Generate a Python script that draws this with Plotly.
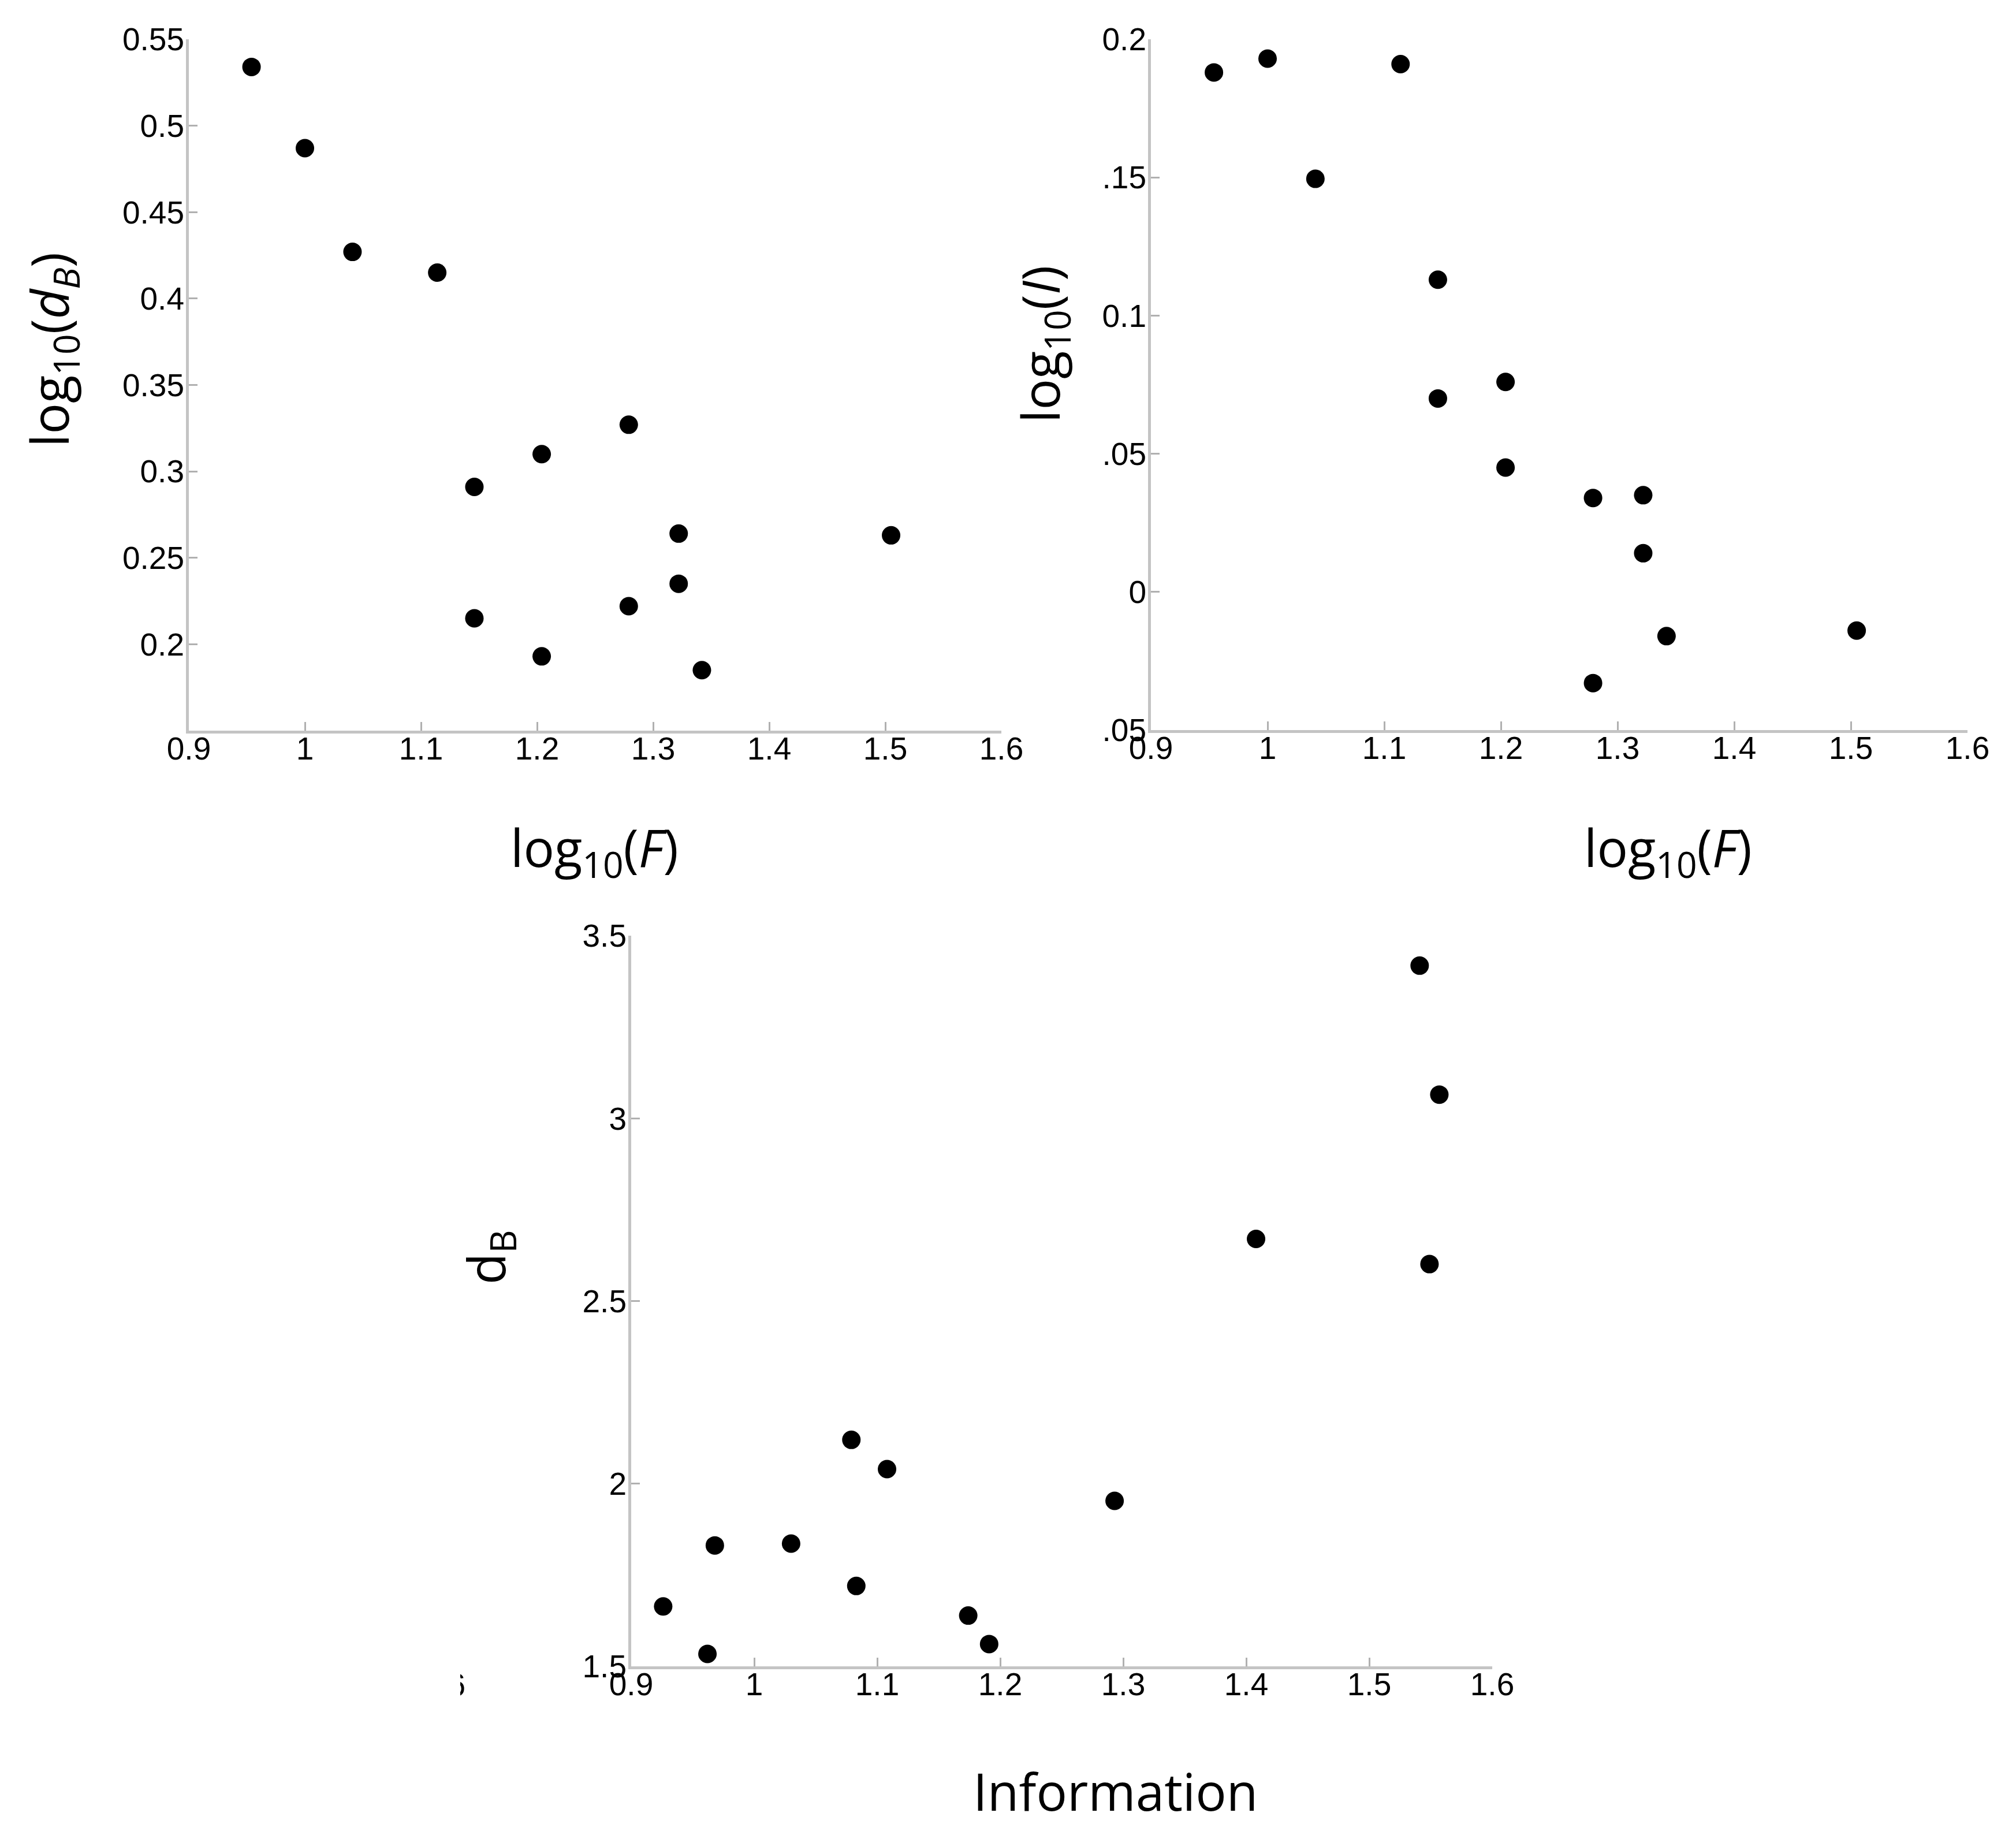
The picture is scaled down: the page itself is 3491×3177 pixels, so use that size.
import plotly.graph_objects as go

W, H = 3491, 3177

# ---------------- data ----------------
log_F = [0.954, 1.000, 1.041, 1.114, 1.146, 1.146, 1.204, 1.204,
         1.279, 1.279, 1.322, 1.322, 1.342, 1.505]
log_dB = [0.534, 0.487, 0.427, 0.415, 0.291, 0.215, 0.310, 0.193,
          0.327, 0.222, 0.264, 0.235, 0.185, 0.263]
log_I = [0.188, 0.193, 0.1495, 0.191, 0.113, 0.070, 0.076, 0.045,
         0.034, -0.033, 0.035, 0.014, -0.016, -0.014]

information = [0.926, 0.962, 0.968, 1.030, 1.079, 1.083, 1.108, 1.174,
               1.191, 1.293, 1.408, 1.541, 1.549, 1.557]
d_B = [1.664, 1.534, 1.831, 1.836, 2.120, 1.720, 2.040, 1.639,
       1.561, 1.953, 2.670, 3.418, 2.601, 3.065]

x_ticks = [0.9, 1.0, 1.1, 1.2, 1.3, 1.4, 1.5, 1.6]
x_ticktext = ["0.9", "1", "1.1", "1.2", "1.3", "1.4", "1.5", "1.6"]
y1_ticks = [0.2, 0.25, 0.3, 0.35, 0.4, 0.45, 0.5, 0.55]
y1_ticktext = ["0.2", "0.25", "0.3", "0.35", "0.4", "0.45", "0.5", "0.55"]
y2_ticks = [-0.05, 0.0, 0.05, 0.1, 0.15, 0.2]
y2_ticktext = [".05", "0", ".05", "0.1", ".15", "0.2"]
y3_ticks = [1.5, 2.0, 2.5, 3.0, 3.5]
y3_ticktext = ["1.5", "2", "2.5", "3", "3.5"]


def fx(px):
    return px / W


def fy(py):
    return 1 - py / H


fig = go.Figure()

marker = dict(color="black", size=32, line=dict(width=0))

fig.add_trace(go.Scatter(x=log_F, y=log_dB, mode="markers", marker=marker,
                         xaxis="x", yaxis="y", cliponaxis=False, showlegend=False))
fig.add_trace(go.Scatter(x=log_F, y=log_I, mode="markers", marker=marker,
                         xaxis="x2", yaxis="y2", cliponaxis=False, showlegend=False))
fig.add_trace(go.Scatter(x=information, y=d_B, mode="markers", marker=marker,
                         xaxis="x3", yaxis="y3", cliponaxis=False, showlegend=False))

# clipped fragment of a neighbouring tick label ("1.6") at bottom-left
fig.add_trace(go.Scatter(x=[806], y=[0.5], mode="text", text=["1.6"],
                         textposition="middle left",
                         textfont=dict(family="Liberation Sans, Arial", size=55, color="black"),
                         marker=dict(size=1), xaxis="x4", yaxis="y4",
                         cliponaxis=True, showlegend=False, hoverinfo="skip"))

tickfont = dict(family="Liberation Sans, Arial", size=55, color="black")
axis_common = dict(showline=True, linecolor="#c4c4c4", linewidth=5,
                   ticks="inside", ticklen=15, tickwidth=3, tickcolor="#b0b0b0",
                   showgrid=False, zeroline=False, mirror=False, automargin=False,
                   tickfont=tickfont, fixedrange=True)

XSTAND = -21
YSTAND = -8

fig.update_layout(
    template="none",
    width=W, height=H, autosize=False,
    margin=dict(l=0, r=0, t=0, b=0, pad=0),
    paper_bgcolor="white", plot_bgcolor="white",
    xaxis=dict(domain=[fx(327), fx(1734)], range=[0.9, 1.6], anchor="y",
               tickvals=x_ticks, ticktext=x_ticktext, ticklabelstandoff=XSTAND, **axis_common),
    yaxis=dict(domain=[fy(1265), fy(68)], range=[0.15, 0.55], anchor="x",
               tickvals=y1_ticks, ticktext=y1_ticktext, ticklabelstandoff=YSTAND, **axis_common),
    xaxis2=dict(domain=[fx(1993), fx(3407)], range=[0.9, 1.6], anchor="y2",
                tickvals=x_ticks, ticktext=x_ticktext, ticklabelstandoff=XSTAND, **axis_common),
    yaxis2=dict(domain=[fy(1264), fy(68)], range=[-0.05, 0.2], anchor="x2",
                tickvals=y2_ticks, ticktext=y2_ticktext, ticklabelstandoff=YSTAND, **axis_common),
    xaxis3=dict(domain=[fx(1093), fx(2584)], range=[0.9, 1.6], anchor="y3",
                tickvals=x_ticks, ticktext=x_ticktext, ticklabelstandoff=XSTAND, **axis_common),
    yaxis3=dict(domain=[fy(2885), fy(1620)], range=[1.5, 3.5], anchor="x3",
                tickvals=y3_ticks, ticktext=y3_ticktext, ticklabelstandoff=YSTAND, **axis_common),
    xaxis4=dict(domain=[fx(797), fx(900)], range=[797, 900], anchor="y4",
                visible=False, fixedrange=True, automargin=False),
    yaxis4=dict(domain=[fy(2980), fy(2864)], range=[0, 1], anchor="x4",
                visible=False, fixedrange=True, automargin=False),
)

title_font = dict(family="Open Sans", size=89, color="black")


def label(text, px, py, angle=0):
    fig.add_annotation(text=text, x=fx(px), y=fy(py), xref="paper", yref="paper",
                       xanchor="center", yanchor="middle", showarrow=False,
                       textangle=angle, font=title_font)


label("log<sub>10</sub>(<i>F</i>)", 1029, 1472)
label("log<sub>10</sub>(<i>F</i>)", 2888, 1472)
label("Information", 1931, 3100)
label("log<sub>10</sub>(<i>d</i><sub><i>B</i></sub>)", 90, 606, -90)
label("log<sub>10</sub>(<i>I</i>)", 1806, 596, -90)
label("d<sub>B</sub>", 846, 2177, -90)

fig.write_html("out.html", config={"displayModeBar": False},
               post_script="document.body.style.margin='0';document.body.style.padding='0';")
